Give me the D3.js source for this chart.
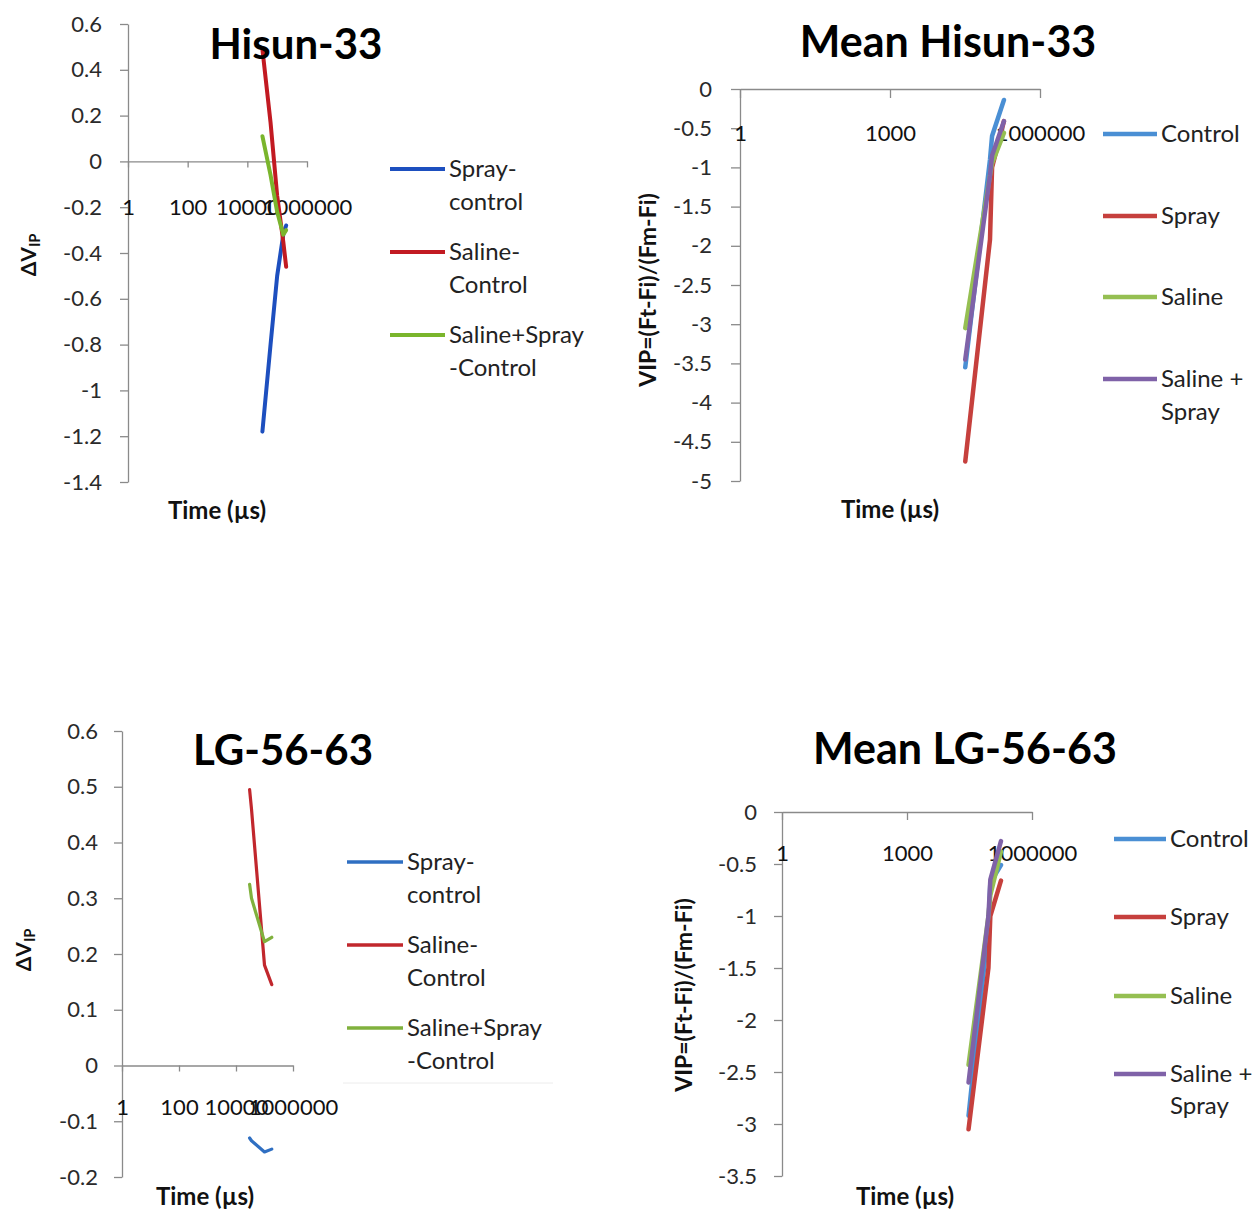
<!DOCTYPE html>
<html>
<head>
<meta charset="utf-8">
<script src="https://cdn.jsdelivr.net/npm/d3@7"></script>
<style>
  body { margin: 0; background: #fff; }
  text { font-family: Lato, "Open Sans", sans-serif; }
</style>
</head>
<body>
<svg id="chart" width="1260" height="1214"></svg>
<script>
// values (time in µs)
const timeHisun = [32000, 60000, 100000, 160000, 200000];
const hisunSprayCtl = [-1.18, -0.8, -0.5, -0.32, -0.28];
const hisunSalineCtl = [0.49, 0.17, -0.15, -0.35, -0.46];
const hisunBothCtl = [0.11, -0.06, -0.22, -0.32, -0.3];

const timeMeanHisun = [32000, 100000, 110000, 190000];
const meanHisunControl = [-3.55, -0.9, -0.6, -0.14];
const meanHisunSpray = [-4.75, -1.92, -1.0, -0.41];
const meanHisunSaline = [-3.05, -1.1, -0.95, -0.56];
const meanHisunBoth = [-3.45, -1.1, -0.85, -0.41];

const timeLG = [30000, 35000, 100000, 180000];
const lgSprayCtl = [-0.13, -0.135, -0.155, -0.15];
const lgSalineCtl = [0.495, 0.46, 0.18, 0.145];
const lgBothCtl = [0.325, 0.30, 0.222, 0.23];

const timeMeanLG = [30000, 90000, 100000, 180000];
const meanLGControl = [-2.92, -1.1, -0.68, -0.51];
const meanLGSpray = [-3.05, -1.5, -1.0, -0.66];
const meanLGSaline = [-2.43, -1.0, -0.8, -0.38];
const meanLGBoth = [-2.6, -1.0, -0.65, -0.28];

const diffNames = [["Spray-", "control"], ["Saline-", "Control"], ["Saline+Spray", "-Control"]];
const meanNames = [["Control"], ["Spray"], ["Saline"], ["Saline +", "Spray"]];

const xTicksFine = [1, 100, 10000, 1000000];
const xTicksCoarse = [1, 1000, 1000000];
const yTicksHisun = [0.6, 0.4, 0.2, 0, -0.2, -0.4, -0.6, -0.8, -1, -1.2, -1.4];
const yTicksMeanHisun = [0, -0.5, -1, -1.5, -2, -2.5, -3, -3.5, -4, -4.5, -5];
const yTicksLG = [0.6, 0.5, 0.4, 0.3, 0.2, 0.1, 0, -0.1, -0.2];
const yTicksMeanLG = [0, -0.5, -1, -1.5, -2, -2.5, -3, -3.5];

const svg = d3.select("#chart");
const fmt = d => String(Math.round(d * 10) / 10 || 0);

function drawPanel(p) {
    const g = svg.append("g");
    const x = d3.scaleLog().domain([1, 1e6]).range([p.x0, p.x1]);
    const y = d3.scaleLinear().domain(p.yDomain).range([p.yB, p.yT]);

    // y axis
    const ya = g.append("g")
        .attr("transform", `translate(${p.x0},0)`)
        .call(d3.axisLeft(y).tickValues(p.yTicks).tickFormat(fmt)
            .tickSizeInner(p.tick).tickSizeOuter(0).tickPadding(p.ypad));
    ya.selectAll("text").style("font-size", p.fs + "px").attr("fill", "#2a2a2a");

    // x axis sitting on y = 0, labels dropped well below it
    const xa = g.append("g")
        .attr("transform", `translate(0,${y(0)})`)
        .call(d3.axisBottom(x).tickValues(p.xTicks).tickFormat(d => String(d))
            .tickSizeInner(p.xtick).tickSizeOuter(0).tickPadding(p.xoff - p.xtick - 0.36 * p.fs));
    xa.selectAll("text").style("font-size", p.fs + "px").attr("fill", "#111");

    g.selectAll(".domain, .tick line").attr("stroke", "#8a8a8a").attr("stroke-width", 1.3);

    const line = d3.line().x(d => x(d[0])).y(d => y(d[1]));
    p.series.forEach((s, i) => {
        g.append("path")
            .datum(p.time.map((t, j) => [t, s[j]]))
            .attr("d", line)
            .attr("fill", "none")
            .attr("stroke", p.colors[i])
            .attr("stroke-width", p.sw)
            .attr("stroke-linejoin", "round")
            .attr("stroke-linecap", "round");
    });

    // title
    g.append("text").attr("x", p.title[1]).attr("y", p.title[2])
        .attr("text-anchor", "middle").attr("font-weight", "bold")
        .style("font-size", p.title[3] + "px").attr("fill", "#000").text(p.title[0]);

    g.append("text").attr("x", p.xlab[0]).attr("y", p.xlab[1])
        .attr("text-anchor", "middle").attr("font-weight", "bold")
        .style("font-size", "24px").attr("fill", "#111").text("Time (µs)");

    const yt = g.append("text")
        .attr("transform", `translate(${p.ylab[0]},${p.ylab[1]}) rotate(-90)`)
        .attr("text-anchor", "middle").attr("font-weight", "bold")
        .style("font-size", p.ylabFs + "px").attr("fill", "#111");
    if (p.ylabSub) {
        yt.append("tspan").text(p.ylabText);
        yt.append("tspan").attr("dy", "0.3em").style("font-size", "0.7em").text(p.ylabSub);
    } else {
        yt.text(p.ylabText);
    }

    // legend
    const lg = g.append("g");
    p.names.forEach((nm, i) => {
        const ly = p.leg.y[i];
        lg.append("line")
            .attr("x1", p.leg.x0).attr("x2", p.leg.x1)
            .attr("y1", ly).attr("y2", ly)
            .attr("stroke", p.colors[i]).attr("stroke-width", p.legSw);
        const t = lg.append("text").attr("x", p.leg.x1 + 4).attr("y", ly + 8)
            .style("font-size", "24px").attr("fill", "#222");
        nm.forEach((w, k) => {
            t.append("tspan").attr("x", p.leg.x1 + 4).attr("dy", k ? p.leg.lh : 0).text(w);
        });
    });
    if (p.legRule) {
        lg.append("line").attr("x1", p.legRule[0]).attr("x2", p.legRule[1])
            .attr("y1", p.legRule[2]).attr("y2", p.legRule[2])
            .attr("stroke", "#ececec").attr("stroke-width", 1);
    }
}

const diffColorsA = ["#1d4fbf", "#c21a22", "#7ab52c"];
const diffColorsB = ["#2f6fc2", "#c1272d", "#80b13d"];
const meanColors = ["#4a8fd4", "#c6403d", "#95bf52", "#7f62a8"];

drawPanel({
    x0: 128, x1: 307, yT: 24, yB: 482, yDomain: [-1.4, 0.6], yTicks: yTicksHisun,
    xTicks: xTicksFine, tick: 8, ypad: 18, xtick: 6, xoff: 46, fs: 22,
    time: timeHisun, series: [hisunSprayCtl, hisunSalineCtl, hisunBothCtl],
    colors: diffColorsA, sw: 4,
    title: ["Hisun-33", 296, 59, 42], xlab: [217, 519], ylab: [36, 255],
    ylabText: "ΔV", ylabSub: "IP", ylabFs: 21,
    names: diffNames, leg: { x0: 390, x1: 445, y: [169, 252, 335], lh: 33 }, legSw: 4
});

drawPanel({
    x0: 740, x1: 1040, yT: 89, yB: 481, yDomain: [-5, 0], yTicks: yTicksMeanHisun,
    xTicks: xTicksCoarse, tick: 9, ypad: 19, xtick: 9, xoff: 44, fs: 22,
    time: timeMeanHisun, series: [meanHisunControl, meanHisunSpray, meanHisunSaline, meanHisunBoth],
    colors: meanColors, sw: 4.5,
    title: ["Mean Hisun-33", 948, 57, 43], xlab: [890, 518], ylab: [656, 290],
    ylabText: "VIP=(Ft-Fi)/(Fm-Fi)", ylabFs: 23,
    names: meanNames, leg: { x0: 1103, x1: 1157, y: [134, 216, 297, 379], lh: 33 }, legSw: 4.5
});

drawPanel({
    x0: 122, x1: 293, yT: 731, yB: 1177, yDomain: [-0.2, 0.6], yTicks: yTicksLG,
    xTicks: xTicksFine, tick: 8, ypad: 16, xtick: 6, xoff: 42, fs: 22,
    time: timeLG, series: [lgSprayCtl, lgSalineCtl, lgBothCtl],
    colors: diffColorsB, sw: 3.2,
    title: ["LG-56-63", 283, 765, 42], xlab: [205, 1205], ylab: [31, 950],
    ylabText: "ΔV", ylabSub: "IP", ylabFs: 21,
    names: diffNames, leg: { x0: 347, x1: 403, y: [862, 945, 1028], lh: 33 }, legSw: 3.5,
    legRule: [343, 553, 1083]
});

drawPanel({
    x0: 782, x1: 1032, yT: 812, yB: 1176, yDomain: [-3.5, 0], yTicks: yTicksMeanLG,
    xTicks: xTicksCoarse, tick: 8, ypad: 17, xtick: 8, xoff: 41, fs: 22,
    time: timeMeanLG, series: [meanLGControl, meanLGSpray, meanLGSaline, meanLGBoth],
    colors: meanColors, sw: 4.5,
    title: ["Mean LG-56-63", 965, 764, 43], xlab: [905, 1205], ylab: [692, 995],
    ylabText: "VIP=(Ft-Fi)/(Fm-Fi)", ylabFs: 23,
    names: meanNames, leg: { x0: 1114, x1: 1166, y: [839, 917, 996, 1074], lh: 32 }, legSw: 4.5
});
</script>
</body>
</html>
